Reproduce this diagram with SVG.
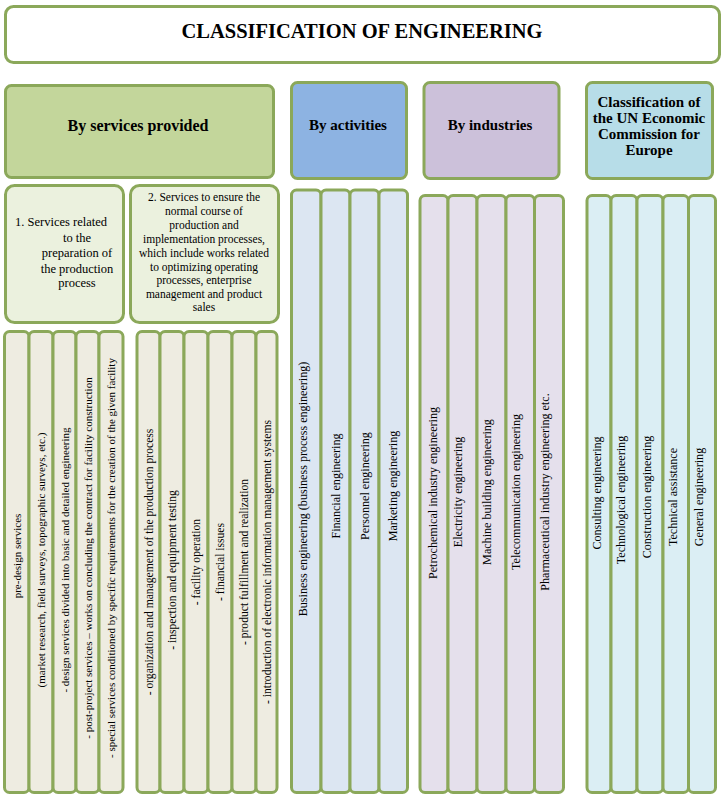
<svg xmlns="http://www.w3.org/2000/svg" width="723" height="797" viewBox="0 0 723 797">
<style>
.b{stroke:#8ba85a;stroke-width:3}
.t{font-family:"Liberation Serif","Times New Roman",serif;fill:#000}
.h{font-weight:bold;font-size:15px;text-anchor:middle}
.v{font-size:11px;text-anchor:middle}
.v2{font-size:11.6px;text-anchor:middle}
.v3{font-size:12.1px;text-anchor:middle}
.s{font-size:12.5px}
.s2{font-size:11.5px;text-anchor:middle}
.g1{fill:#eeece1}
.g2{fill:#dce6f2}
.g3{fill:#e5e0ec}
.g4{fill:#dbeef4}
</style>
<rect width="723" height="797" fill="#fff"/>
<g id="title">
<rect class="b" x="5.5" y="6.5" width="714" height="56" rx="8" fill="#fff"/>
<text class="t" x="362" y="38" font-size="20.5" font-weight="bold" text-anchor="middle">CLASSIFICATION OF ENGINEERING</text>
</g>
<g id="hdr-services">
<rect class="b" x="5.5" y="85.5" width="268" height="92" rx="6" fill="#c3d69b"/>
<text class="t h" x="138" y="131" style="font-size:16px">By services provided</text>
</g>
<g id="hdr-activities">
<rect class="b" x="291.5" y="82.5" width="115" height="96" rx="6" fill="#8db3e2"/>
<text class="t h" x="348" y="130">By activities</text>
</g>
<g id="hdr-industries">
<rect class="b" x="424" y="82.5" width="135" height="96" rx="6" fill="#ccc1da"/>
<text class="t h" x="490" y="130">By industries</text>
</g>
<g id="hdr-un">
<rect class="b" x="586.5" y="82.5" width="126" height="96" rx="6" fill="#b7dde8"/>
<text class="t h" x="649" y="107">Classification of</text>
<text class="t h" x="649" y="123">the UN Economic</text>
<text class="t h" x="649" y="139">Commission for</text>
<text class="t h" x="649" y="155">Europe</text>
</g>
<g id="sub1">
<rect class="b" x="5.5" y="185.5" width="118" height="137" rx="9" fill="#ebf1de"/>
<text class="t s" x="15" y="226">1. Services related</text>
<text class="t s" x="77" y="242" text-anchor="middle">to the</text>
<text class="t s" x="77" y="257" text-anchor="middle">preparation of</text>
<text class="t s" x="77" y="273" text-anchor="middle">the production</text>
<text class="t s" x="77" y="287" text-anchor="middle">process</text>
</g>
<g id="sub2">
<rect class="b" x="130.5" y="185.5" width="148" height="137" rx="9" fill="#ebf1de"/>
<text class="t s2" x="204" y="201">2. Services to ensure the</text>
<text class="t s2" x="204" y="215">normal course of</text>
<text class="t s2" x="204" y="229">production and</text>
<text class="t s2" x="204" y="243">implementation processes,</text>
<text class="t s2" x="204" y="257">which include works related</text>
<text class="t s2" x="204" y="271">to optimizing operating</text>
<text class="t s2" x="204" y="284">processes, enterprise</text>
<text class="t s2" x="204" y="298">management and product</text>
<text class="t s2" x="204" y="311">sales</text>
</g>
<g id="col-services-1">
<rect class="b g1" x="4.5" y="331.5" width="24.5" height="461" rx="5"/>
<rect class="b g1" x="29" y="331.5" width="24" height="461" rx="5"/>
<rect class="b g1" x="53" y="331.5" width="23" height="461" rx="5"/>
<rect class="b g1" x="76" y="331.5" width="23" height="461" rx="5"/>
<rect class="b g1" x="99" y="331.5" width="24" height="461" rx="5"/>
<text class="t v" transform="translate(20.5,556) rotate(-90)">pre-design services</text>
<text class="t v" transform="translate(45,560) rotate(-90)">(market research, field surveys, topographic surveys, etc.)</text>
<text class="t v" transform="translate(68.5,560) rotate(-90)">- design services divided into basic and detailed engineering</text>
<text class="t v" transform="translate(91.5,558) rotate(-90)">- post-project services – works on concluding the contract for facility construction</text>
<text class="t v" transform="translate(115,558) rotate(-90)">- special services conditioned by specific requirements for the creation of the given facility</text>
</g>
<g id="col-services-2">
<rect class="b g1" x="137" y="331.5" width="23" height="461" rx="5"/>
<rect class="b g1" x="160" y="331.5" width="24" height="461" rx="5"/>
<rect class="b g1" x="184" y="331.5" width="24" height="461" rx="5"/>
<rect class="b g1" x="208" y="331.5" width="24" height="461" rx="5"/>
<rect class="b g1" x="232" y="331.5" width="24" height="461" rx="5"/>
<rect class="b g1" x="256" y="331.5" width="21" height="461" rx="5"/>
<text class="t v2" transform="translate(152.5,562) rotate(-90)">- organization and management of the production process</text>
<text class="t v2" transform="translate(176,570) rotate(-90)">- inspection and equipment testing</text>
<text class="t v2" transform="translate(200,562) rotate(-90)">- facility operation</text>
<text class="t v2" transform="translate(224,562) rotate(-90)">- financial issues</text>
<text class="t v2" transform="translate(248,562) rotate(-90)">- product fulfillment and realization</text>
<text class="t v2" transform="translate(270.5,562) rotate(-90)">- introduction of electronic information management systems</text>
</g>
<g id="col-activities">
<rect class="b g2" x="291.5" y="190" width="29.5" height="602.5" rx="5"/>
<rect class="b g2" x="321" y="190" width="29" height="602.5" rx="5"/>
<rect class="b g2" x="350" y="190" width="29" height="602.5" rx="5"/>
<rect class="b g2" x="379" y="190" width="28.5" height="602.5" rx="5"/>
<text class="t v3" transform="translate(307,489) rotate(-90)">Business engineering (business process engineering)</text>
<text class="t v3" transform="translate(339.5,486) rotate(-90)">Financial engineering</text>
<text class="t v3" transform="translate(368.5,486) rotate(-90)">Personnel engineering</text>
<text class="t v3" transform="translate(397,486) rotate(-90)">Marketing engineering</text>
</g>
<g id="col-industries">
<rect class="b g3" x="420" y="195.5" width="28" height="597" rx="5"/>
<rect class="b g3" x="448" y="195.5" width="29" height="597" rx="5"/>
<rect class="b g3" x="477" y="195.5" width="29" height="597" rx="5"/>
<rect class="b g3" x="506" y="195.5" width="28.5" height="597" rx="5"/>
<rect class="b g3" x="534.5" y="195.5" width="29" height="597" rx="5"/>
<text class="t v3" transform="translate(437,493) rotate(-90)">Petrochemical industry engineering</text>
<text class="t v3" transform="translate(462,492) rotate(-90)">Electricity engineering</text>
<text class="t v3" transform="translate(491,492) rotate(-90)">Machine building engineering</text>
<text class="t v3" transform="translate(520,492) rotate(-90)">Telecommunication engineering</text>
<text class="t v3" transform="translate(549,492) rotate(-90)">Pharmaceutical industry engineering etc.</text>
</g>
<g id="col-un">
<rect class="b g4" x="587" y="195.5" width="24" height="597" rx="5"/>
<rect class="b g4" x="611" y="195.5" width="26" height="597" rx="5"/>
<rect class="b g4" x="637" y="195.5" width="26" height="597" rx="5"/>
<rect class="b g4" x="663" y="195.5" width="25.5" height="597" rx="5"/>
<rect class="b g4" x="688.5" y="195.5" width="27" height="597" rx="5"/>
<text class="t v3" transform="translate(601,493) rotate(-90)">Consulting engineering</text>
<text class="t v3" transform="translate(625,500) rotate(-90)">Technological engineering</text>
<text class="t v3" transform="translate(651,497) rotate(-90)">Construction engineering</text>
<text class="t v3" transform="translate(677,497) rotate(-90)">Technical assistance</text>
<text class="t v3" transform="translate(703,497) rotate(-90)">General engineering</text>
</g>
<g id="connectors"/>
</svg>
